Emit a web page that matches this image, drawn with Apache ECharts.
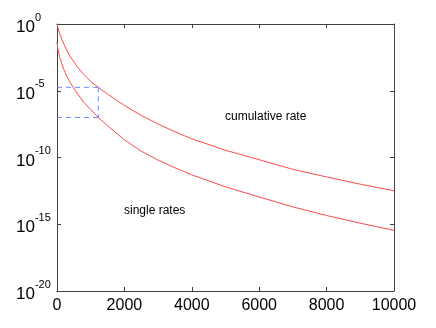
<!DOCTYPE html>
<html>
<head>
<meta charset="utf-8">
<script src="https://cdn.jsdelivr.net/npm/echarts@6/dist/echarts.min.js"></script>
<style>
  html, body { margin: 0; padding: 0; background: #fff; }
  #chart { width: 436px; height: 328px; }
</style>
</head>
<body>
<div id="chart"></div>
<script>
// x positions (same for both curves)
var xValues = [0, 25, 50, 100, 150, 200, 300, 400, 600, 800, 1000, 1225, 1500, 2000, 2500, 3000, 3500, 4000, 5000, 6000, 7000, 8000, 9000, 10000];
// cumulative rate
var cumulativeRate = [1, 5.6e-1, 3.5e-1, 1.4e-1, 6.3e-2, 3.2e-2, 9.5e-3, 3.4e-3, 6.3e-4, 1.6e-4, 5.0e-5, 1.8e-5, 5.6e-6, 7.9e-7, 1.4e-7, 3.2e-8, 8.5e-9, 2.5e-9, 3.5e-10, 6.8e-11, 1.3e-11, 3.5e-12, 1.0e-12, 3.2e-13];
// single rates
var singleRates = [4.5e-2, 1.4e-2, 7.1e-3, 2.2e-3, 8.9e-4, 4.0e-4, 1.1e-4, 3.8e-5, 6.3e-6, 1.3e-6, 4.0e-7, 1.0e-7, 2.4e-8, 2.1e-9, 3.0e-10, 6.3e-11, 1.7e-11, 5.0e-12, 6.3e-13, 1.1e-13, 2.0e-14, 4.5e-15, 1.2e-15, 3.5e-16];
// dashed guide: x where it drops, and the two levels
var guideX = [0, 1225];
var guideLevels = [1.8e-5, 1.0e-7];

var xTicks = [0, 2000, 4000, 6000, 8000, 10000];

function pairs(xs, ys) {
    var out = [];
    for (var i = 0; i < xs.length; i++) out.push([xs[i], ys[i]]);
    return out;
}

var myChart = echarts.init(document.getElementById('chart'));
var axisColor = '#404040';
var guideStyle = { color: '#6f86ff', width: 1, type: [5, 4] };

var option = {
    animation: false,
    backgroundColor: '#fff',
    grid: { left: 57, top: 24, right: 42, bottom: 37 },
    xAxis: [{
        type: 'value',
        min: xTicks[0],
        max: xTicks[xTicks.length - 1],
        interval: 2000,
        axisLine: { onZero: false, lineStyle: { color: axisColor } },
        axisTick: { inside: true, length: 4, lineStyle: { color: axisColor } },
        axisLabel: {
            color: '#000', fontSize: 16, margin: 7, fontFamily: 'Liberation Sans',
            formatter: function (v) { return String(v); }
        },
        splitLine: { show: false }
    }, {
        type: 'value',
        position: 'top',
        min: xTicks[0],
        max: xTicks[xTicks.length - 1],
        interval: 2000,
        axisLine: { onZero: false, lineStyle: { color: axisColor } },
        axisTick: { inside: true, length: 4, lineStyle: { color: axisColor } },
        axisLabel: { show: false },
        splitLine: { show: false }
    }],
    yAxis: [{
        type: 'log',
        logBase: 10,
        min: 1e-20,
        max: 1,
        interval: 5,
        axisLine: { onZero: false, lineStyle: { color: axisColor } },
        axisTick: { inside: true, length: 4, lineStyle: { color: axisColor } },
        minorTick: { show: false },
        splitLine: { show: false },
        axisLabel: {
            align: 'left',
            margin: 41,
            fontFamily: 'Liberation Sans',
            formatter: function (v) {
                var e = Math.round(Math.log10(v));
                return '{b|10}{s|' + e + '}';
            },
            rich: {
                b: { fontSize: 17, color: '#000', fontFamily: 'Liberation Sans', lineHeight: 24, verticalAlign: 'bottom' },
                s: { fontSize: 11, color: '#000', fontFamily: 'Liberation Sans', lineHeight: 24, verticalAlign: 'top' }
            }
        }
    }, {
        type: 'log',
        logBase: 10,
        position: 'right',
        min: 1e-20,
        max: 1,
        interval: 5,
        axisLine: { onZero: false, lineStyle: { color: axisColor } },
        axisTick: { inside: true, length: 4, lineStyle: { color: axisColor } },
        axisLabel: { show: false },
        splitLine: { show: false }
    }],
    series: [{
        name: 'cumulative rate',
        type: 'line',
        data: pairs(xValues, cumulativeRate),
        showSymbol: false,
        lineStyle: { color: '#ff4a4a', width: 1 }
    }, {
        name: 'single rates',
        type: 'line',
        data: pairs(xValues, singleRates),
        showSymbol: false,
        lineStyle: { color: '#ff4a4a', width: 1 }
    }, {
        type: 'line',
        data: [[guideX[0], guideLevels[0]], [guideX[1], guideLevels[0]]],
        showSymbol: false,
        lineStyle: guideStyle
    }, {
        type: 'line',
        data: [[guideX[0], guideLevels[1]], [guideX[1], guideLevels[1]]],
        showSymbol: false,
        lineStyle: guideStyle
    }, {
        type: 'line',
        data: [[guideX[1], guideLevels[0]], [guideX[1], guideLevels[1]]],
        showSymbol: false,
        lineStyle: guideStyle
    }],
    graphic: [{
        type: 'text',
        left: 225,
        top: 111,
        style: { text: 'cumulative rate', fontSize: 12, fill: '#000', fontFamily: 'Liberation Sans' }
    }, {
        type: 'text',
        left: 124,
        top: 205,
        style: { text: 'single rates', fontSize: 12, fill: '#000', fontFamily: 'Liberation Sans' }
    }]
};

myChart.setOption(option);
</script>
</body>
</html>
